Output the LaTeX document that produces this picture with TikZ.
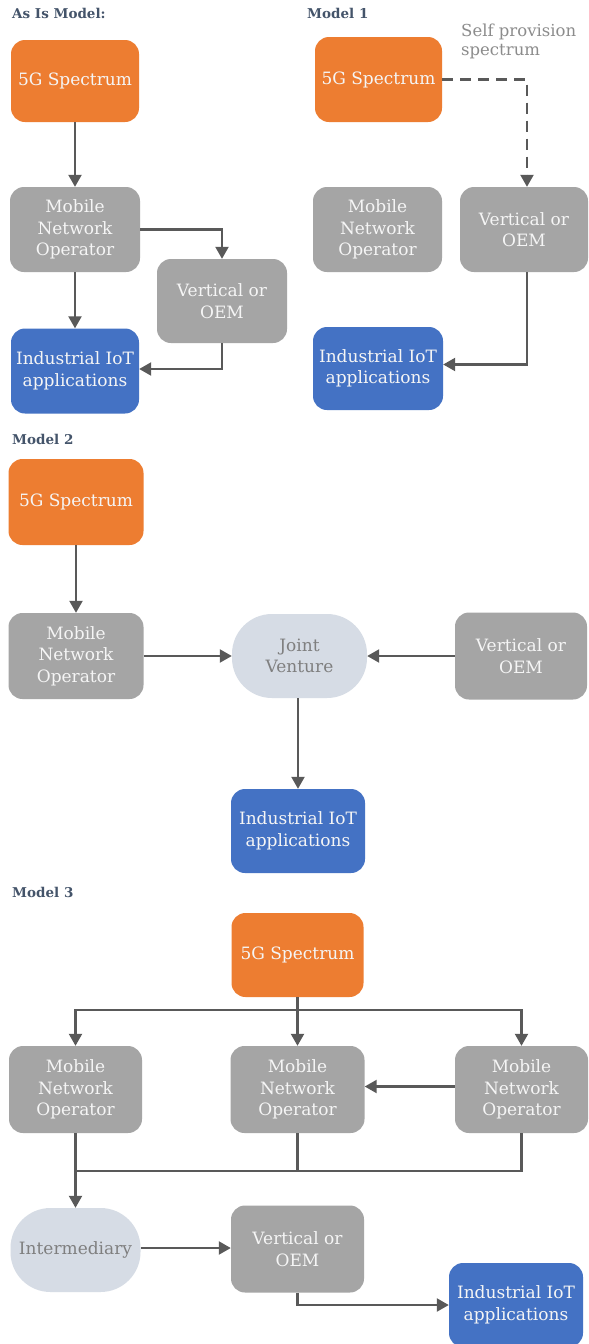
\documentclass[tikz,border=0pt]{standalone}
\usepackage{fontspec}
\setmainfont{DejaVu Serif}
\usetikzlibrary{arrows.meta}
\definecolor{specorange}{HTML}{ED7D31}
\definecolor{iotblue}{HTML}{4472C4}
\definecolor{boxgray}{HTML}{A5A5A5}
\definecolor{softblue}{HTML}{D6DCE5}
\definecolor{linegray}{HTML}{595959}
\definecolor{headslate}{HTML}{44546A}
\definecolor{notegray}{HTML}{8C8C8C}
\definecolor{softtext}{HTML}{7F7F7F}
\begin{document}
\begin{tikzpicture}[x=1pt,y=-1pt,
  box/.style={rectangle, rounded corners=14pt, inner sep=0pt, align=center,
    text=white!96!black, font=\fontsize{17}{21.5}\selectfont},
  spec/.style={box, fill=specorange},
  actor/.style={box, fill=boxgray},
  iot/.style={box, fill=iotblue},
  hub/.style={box, fill=softblue, rounded corners=40pt, text=softtext},
  head/.style={anchor=base west, inner sep=0pt, text=headslate,
    font=\fontsize{13.5}{16}\selectfont\bfseries},
  link/.style={draw=linegray, line width=2.2pt},
  arr/.style={link, -{Triangle[length=12pt,width=13pt]}},
  dasharr/.style={arr, dash pattern=on 11pt off 7pt}
]
\fill[white] (0,0) rectangle (589,1344);
\useasboundingbox (0,0) rectangle (589,1344);

% ---------- As Is Model ----------
\node[head] (h0) at (12,18) {As Is Model:};
\node[spec, minimum width=128pt, minimum height=82pt] (s0) at (75,81) {5G Spectrum};
\node[actor, minimum width=130pt, minimum height=85pt] (m0) at (75,229.5) {Mobile\\Network\\Operator};
\node[actor, minimum width=130pt, minimum height=84pt] (v0) at (222,301) {Vertical or\\OEM};
\node[iot, minimum width=128pt, minimum height=85pt] (i0) at (75,371) {Industrial IoT\\applications};
\draw[arr] (s0.south) -- (m0.north);
\draw[arr] (m0.south) -- (i0.north);
\draw[arr] (m0.east) -| (v0.north);
\draw[arr] (v0.south) |- ([yshift=2pt]i0.east);

% ---------- Model 1 ----------
\node[head] (h1) at (307,18) {Model 1};
\node[anchor=base west, inner sep=0pt, align=left, text=notegray,
  font=\fontsize{16.5}{18.5}\selectfont] (note) at (461,55) {Self provision\\spectrum};
\node[spec, minimum width=127pt, minimum height=85pt] (s1) at (378.5,79.5) {5G Spectrum};
\node[actor, minimum width=129pt, minimum height=85pt] (m1) at (377.5,229.5) {Mobile\\Network\\Operator};
\node[actor, minimum width=128pt, minimum height=85pt] (v1) at (524,229.5) {Vertical or\\OEM};
\node[iot, minimum width=130pt, minimum height=83pt] (i1) at (378,368.5) {Industrial IoT\\applications};
\draw[dasharr] (s1.east) -| ([xshift=3pt]v1.north);
\draw[arr] ([xshift=3pt]v1.south) |- ([yshift=4pt]i1.east);

% ---------- Model 2 ----------
\node[head] (h2) at (12,444) {Model 2};
\node[spec, minimum width=135pt, minimum height=86pt] (s2) at (76,502) {5G Spectrum};
\node[actor, minimum width=135pt, minimum height=86pt] (m2) at (76,656) {Mobile\\Network\\Operator};
\node[hub, minimum width=135pt, minimum height=84pt] (jv) at (299.5,656) {Joint\\Venture};
\node[actor, minimum width=132pt, minimum height=87pt] (v2) at (521,656) {Vertical or\\OEM};
\node[iot, minimum width=134pt, minimum height=84pt] (i2) at (298,831) {Industrial IoT\\applications};
\draw[arr] (s2.south) -- (m2.north);
\draw[arr] (m2.east) -- (jv.west);
\draw[arr] (v2.west) -- (jv.east);
\draw[arr] (jv.south -| i2.north) -- (i2.north);

% ---------- Model 3 ----------
\node[head] (h3) at (12,897) {Model 3};
\node[spec, minimum width=132pt, minimum height=84pt] (s3) at (297.5,955) {5G Spectrum};
\node[actor, minimum width=133pt, minimum height=87pt] (ma) at (75.5,1089.5) {Mobile\\Network\\Operator};
\node[actor, minimum width=134pt, minimum height=87pt] (mb) at (297.5,1089.5) {Mobile\\Network\\Operator};
\node[actor, minimum width=133pt, minimum height=87pt] (mc) at (521.5,1089.5) {Mobile\\Network\\Operator};
\node[hub, minimum width=130pt, minimum height=84pt] (im) at (75.5,1250) {Intermediary};
\node[actor, minimum width=133pt, minimum height=87pt] (v3) at (297.5,1249) {Vertical or\\OEM};
\node[iot, minimum width=134pt, minimum height=84pt] (i3) at (516,1305) {Industrial IoT\\applications};
\coordinate (split) at (297.5,1010);
\coordinate (merge) at (75.5,1171);
\draw[arr] (s3.south) -- (mb.north);
\draw[arr] (split) -| (ma.north);
\draw[arr] (split) -| (mc.north);
\draw[arr] ([yshift=3pt]mc.west) -- ([yshift=3pt]mb.east);
\draw[link] (mc.south) |- (merge);
\draw[link] (mb.south) -- (mb.south |- merge);
\draw[arr] (ma.south) -- (im.north);
\draw[arr] ([yshift=2pt]im.east) -- ([yshift=2pt]im.east -| v3.west);
\draw[arr] (v3.south) |- (i3.west);
\end{tikzpicture}
\end{document}
